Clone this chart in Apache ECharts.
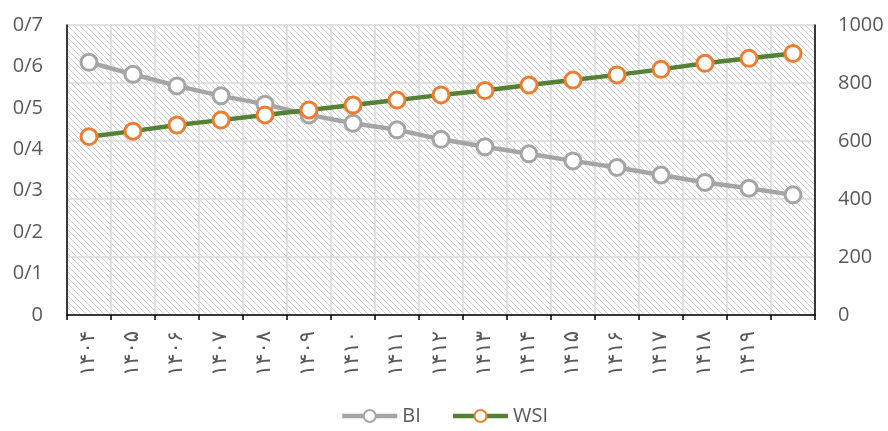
<!DOCTYPE html>
<html>
<head>
<meta charset="utf-8">
<script src="https://cdn.jsdelivr.net/npm/echarts@6/dist/echarts.min.js"></script>
<style>
html,body{margin:0;padding:0;background:#fff;}
#c{width:888px;height:431px;}
</style>
</head>
<body>
<div id="c"></div>
<script>
const categories = ['۱۴۰۴','۱۴۰۵','۱۴۰۶','۱۴۰۷','۱۴۰۸','۱۴۰۹','۱۴۱۰','۱۴۱۱','۱۴۱۲','۱۴۱۳','۱۴۱۴','۱۴۱۵','۱۴۱۶','۱۴۱۷','۱۴۱۸','۱۴۱۹',''];
const biValues = [0.610,0.581,0.553,0.529,0.509,0.483,0.463,0.447,0.424,0.406,0.389,0.372,0.356,0.338,0.320,0.306,0.290];
const wsiValues = [615,634,655,672,690,707,724,741,759,774,793,810,828,847,868,885,902];
const leftTicks = {min:0, max:0.7, interval:0.1};
const rightTicks = {min:0, max:1000, interval:200};

// hatch pattern
const pc = document.createElement('canvas');
pc.width = 6; pc.height = 6;
const g = pc.getContext('2d');
g.fillStyle = '#ffffff'; g.fillRect(0,0,6,6);
g.strokeStyle = '#d0d0d0'; g.lineWidth = 1;
g.beginPath();
g.moveTo(-1,-1); g.lineTo(7,7);
g.moveTo(-7,-1); g.lineTo(1,7);
g.moveTo(5,-1); g.lineTo(13,7);
g.stroke();

const chart = echarts.init(document.getElementById('c'));
const font = '"Open Sans", "DejaVu Sans", sans-serif';
chart.setOption({
  animation:false,
  backgroundColor:'#fff',
  grid:{left:67,right:73,top:25,bottom:116,show:true,borderWidth:0,backgroundColor:{image:pc,repeat:'repeat'}},
  legend:{
    bottom:0,left:'center',itemWidth:55,itemHeight:15,itemGap:30,
    lineStyle:{width:4.5},
    textStyle:{color:'#595959',fontSize:20,fontFamily:font},
    data:['BI','WSI']
  },
  xAxis:{
    type:'category',data:categories,boundaryGap:true,
    axisLine:{show:true,lineStyle:{color:'#000',width:1.5}},
    axisTick:{show:true,alignWithLabel:false,length:5,lineStyle:{color:'#000',width:1.5}},
    axisLabel:{interval:0,rotate:90,margin:16,color:'#595959',fontSize:21,fontFamily:'"DejaVu Sans", sans-serif'},
    splitLine:{show:true,interval:0,lineStyle:{color:'#d9d9d9',width:1.5}}
  },
  yAxis:[
    {type:'value',min:leftTicks.min,max:leftTicks.max,interval:leftTicks.interval,position:'left',
     axisLine:{show:true,lineStyle:{color:'#000',width:1.5}},axisTick:{show:false},
     splitLine:{show:false},
     axisLabel:{margin:24,color:'#595959',fontSize:20,fontFamily:font,
       formatter:v=>{const r=Math.round(v*10)/10; return r===0?'0':r.toFixed(1).replace('.','/');}}},
    {type:'value',min:rightTicks.min,max:rightTicks.max,interval:rightTicks.interval,position:'right',
     axisLine:{show:true,lineStyle:{color:'#000',width:1.5}},axisTick:{show:false},
     splitLine:{show:true,lineStyle:{color:'#d9d9d9',width:1.5}},
     axisLabel:{margin:23,color:'#595959',fontSize:20,fontFamily:font,formatter:v=>String(v)}}
  ],
  series:[
    {name:'BI',type:'line',yAxisIndex:0,data:biValues,symbol:'circle',symbolSize:16,
     lineStyle:{color:'#a5a5a5',width:4.5},
     itemStyle:{color:'#ffffff',borderColor:'#a5a5a5',borderWidth:3}},
    {name:'WSI',type:'line',yAxisIndex:1,data:wsiValues,symbol:'circle',symbolSize:16,
     lineStyle:{color:'#548235',width:4.5},
     itemStyle:{color:'#ffffff',borderColor:'#ed7d31',borderWidth:3}}
  ]
});
</script>
</body>
</html>
